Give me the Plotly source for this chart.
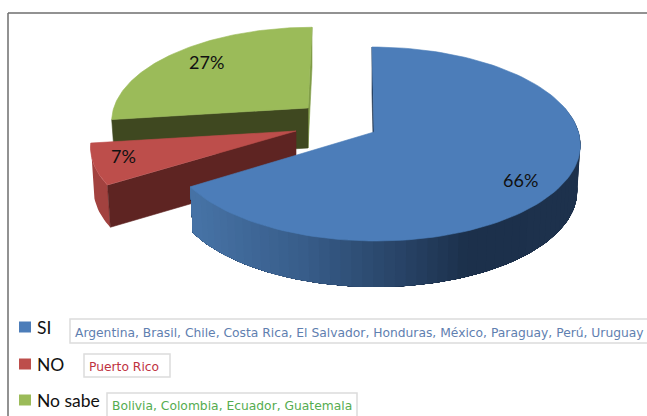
import numpy as np
import plotly.graph_objects as go

# ---- data ----
categories = ["SI", "NO", "No sabe"]
values = [66, 7, 27]
percent_labels = ["66%", "7%", "27%"]
country_lists = [
    "Argentina, Brasil, Chile, Costa Rica, El Salvador, Honduras, México, Paraguay, Perú, Uruguay",
    "Puerto Rico",
    "Bolivia, Colombia, Ecuador, Guatemala",
]
top_colors = ["#4c7db9", "#bd4e4b", "#9bbb59"]
cut_colors = ["#1c304b", "#5e2422", "#3f4820"]
rim_colors = ["#1c304b", "#a2423f", "#7f9c47"]
text_colors = ["#5f80b0", "#c0323f", "#55ac50"]

W, H = 647, 416
K, A, B = 0.1237, 95.5, 204.5


def project(t, apex, scale=1.0, shear=0.0, sx=1.0, drop=0.0):
    u, v = np.sin(t), np.cos(t)
    w = 1 + K * v
    x = apex[0] + sx * scale * B * u / w + shear * v
    y = apex[1] - scale * A * v / w + drop
    return x, y


fractions = np.cumsum([0] + values) / sum(values)
angles = fractions * 2 * np.pi
geom = [
    dict(apex=(374, 132), scale=1.0, shear=-2, depth=46),
    dict(apex=(296, 131), scale=0.99, shear=10, depth=42),
    dict(apex=(308, 108), scale=0.95, shear=4, depth=40),
]

fig = go.Figure()


def poly(xs, ys, color, lw=0.6):
    fig.add_trace(go.Scatter(
        x=list(xs), y=list(ys), mode="lines", fill="toself", fillcolor=color,
        line=dict(color=color, width=lw), hoverinfo="skip", showlegend=False))


def lerp_color(x):
    stops_x = [192, 300, 400, 465, 580]
    stops_c = np.array([[0x47, 0x73, 0xa6], [0x38, 0x5d, 0x8a], [0x28, 0x43, 0x66],
                        [0x1c, 0x30, 0x4b], [0x1e, 0x32, 0x4d]])
    c = [np.interp(x, stops_x, stops_c[:, i]) for i in range(3)]
    return "rgb(%d,%d,%d)" % tuple(c)


def wedge_top(i):
    g = geom[i]
    t = np.linspace(angles[i], angles[i + 1], 120)
    x, y = project(t, g["apex"], g["scale"], g["shear"])
    poly(np.r_[g["apex"][0], x, g["apex"][0]], np.r_[g["apex"][1], y, g["apex"][1]], top_colors[i])


def cut_face(i, t0, color):
    g = geom[i]
    x, y = project(t0, g["apex"], g["scale"], g["shear"])
    xb, yb = project(t0, g["apex"], g["scale"], g["shear"], sx=0.985, drop=g["depth"])
    ax, ay = g["apex"]
    poly([ax, x, xb, ax, ax], [ay, y, yb, ay + g["depth"], ay], color)


def rim(i, t0, t1, n, color=None):
    g = geom[i]
    edges = np.linspace(t0, t1, n + 1)
    # painted as overlapping bands, each reaching to the far end, so no seams show
    for a in edges[:-1]:
        tt = np.linspace(a, t1, max(4, int((t1 - a) * 40)))
        x, y = project(tt, g["apex"], g["scale"], g["shear"])
        xb, yb = project(tt, g["apex"], g["scale"], g["shear"], sx=0.985, drop=g["depth"])
        xm = x[:4].mean()
        poly(np.r_[x, xb[::-1], x[0]], np.r_[y, yb[::-1], y[0]], color or lerp_color(xm), lw=0)


# green slice (back)
cut_face(2, angles[3], rim_colors[2])
cut_face(2, angles[2], cut_colors[2])
wedge_top(2)
# red slice
rim(1, angles[1], angles[2], 1, rim_colors[1])
cut_face(1, angles[1], cut_colors[1])
wedge_top(1)
# blue slice (front)
cut_face(0, angles[0], cut_colors[0])
rim(0, np.deg2rad(75), angles[1], 60)
wedge_top(0)

# ---- frame ----
shapes = [
    dict(type="line", x0=8, x1=W, y0=13, y1=13, line=dict(color="#6e6e6e", width=1.5)),
    dict(type="line", x0=8, x1=8, y0=13, y1=H, line=dict(color="#6e6e6e", width=1.5)),
]
annotations = []

legend_y = [327, 364, 400]
sq_h = 11
boxes = [(70, 650, 319, 343), (84, 170, 354, 377), (107, 357, 393, 417)]
text_x = [73, 87, 110]
text_y = [333, 367, 406]
for i, cat in enumerate(categories):
    shapes.append(dict(type="rect", x0=19, x1=31, y0=legend_y[i] - sq_h / 2, y1=legend_y[i] + sq_h / 2,
                       fillcolor=top_colors[i], line=dict(width=0)))
    annotations.append(dict(x=35, y=legend_y[i], text=cat, xanchor="left", yanchor="middle",
                            showarrow=False, font=dict(family="Lato", size=17.5, color="#111111")))
    x0, x1, y0, y1 = boxes[i]
    shapes.append(dict(type="rect", x0=x0, x1=x1, y0=y0, y1=y1, fillcolor="white",
                       line=dict(color="#dcdcdc", width=1.5)))
    annotations.append(dict(x=text_x[i], y=text_y[i], text=country_lists[i], xanchor="left", yanchor="middle",
                            showarrow=False, font=dict(family="DejaVu Sans", size=12.3, color=text_colors[i])))

label_pos = [(520, 180), (123, 156), (206, 62)]
for (x, y), lab in zip(label_pos, percent_labels):
    annotations.append(dict(x=x, y=y, text=lab, showarrow=False, xanchor="center", yanchor="middle",
                            font=dict(family="Lato", size=18, color="#111111")))

fig.update_layout(
    width=W, height=H, margin=dict(l=0, r=0, t=0, b=0),
    paper_bgcolor="white", plot_bgcolor="white", showlegend=False,
    xaxis=dict(range=[0, W], visible=False, fixedrange=True),
    yaxis=dict(range=[H, 0], visible=False, fixedrange=True),
    shapes=shapes, annotations=annotations,
)
fig.write_html(
    "out.html",
    config={"displayModeBar": False},
    post_script="document.body.style.margin='0';document.body.style.overflow='hidden';",
)
